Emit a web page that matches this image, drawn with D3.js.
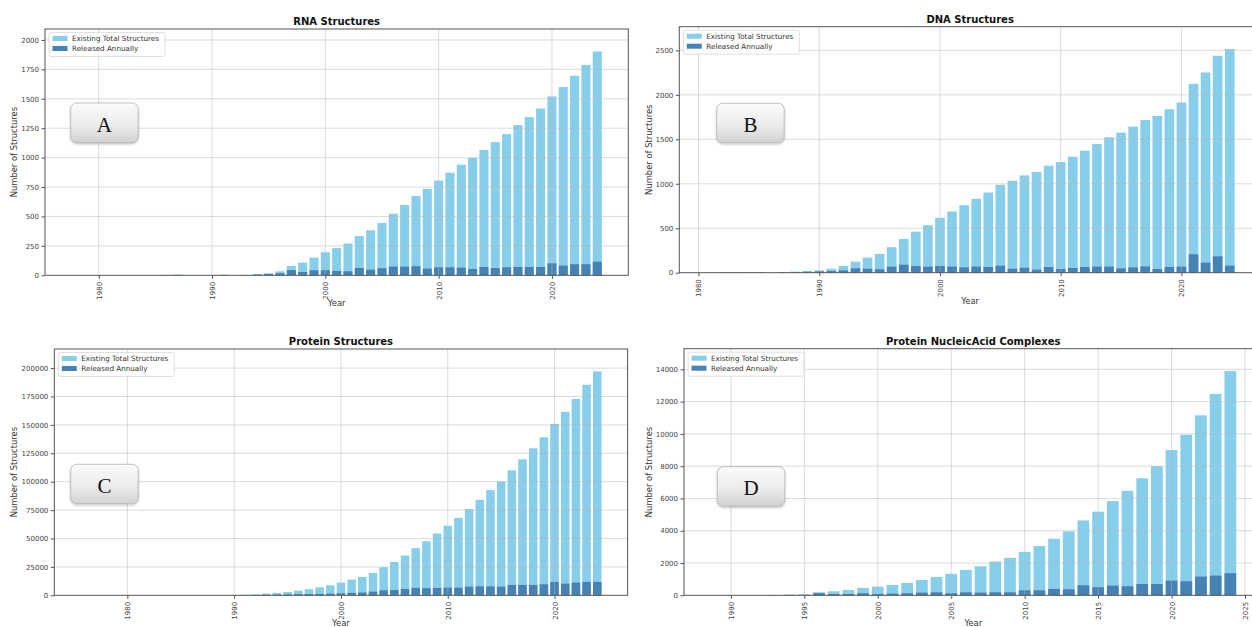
<!DOCTYPE html>
<html>
<head>
<meta charset="utf-8">
<script src="https://cdn.jsdelivr.net/npm/d3@7"></script>
<style>
  body { margin: 0; background: #fff; }
  svg { display: block; font-family: "DejaVu Sans", sans-serif; }
</style>
</head>
<body>
<svg id="chart" width="1252" height="627"></svg>
<script>
"use strict";

// ---- data ----
const seriesNames = ["Existing Total Structures", "Released Annually"];
const panelTitles = ["RNA Structures", "DNA Structures", "Protein Structures", "Protein NucleicAcid Complexes"];
const panelLetters = ["A", "B", "C", "D"];
const startYears = [1978, 1981, 1990, 1989];

const rnaTotal = [1, 0, 0, 0, 0, 0, 0, 0, 3, 5,
  0, 0, 0, 4, 0, 2, 9, 17, 34, 80,
  108, 150, 196, 231, 270, 333, 382, 444, 523, 597,
  674, 734, 805, 872, 940, 998, 1066, 1132, 1200, 1277,
  1345, 1418, 1520, 1600, 1696, 1788, 1903];
const rnaAnnual = [1, 0, 0, 0, 0, 0, 0, 0, 2, 3,
  0, 0, 0, 3, 0, 2, 6, 11, 17, 45,
  28, 43, 43, 37, 34, 62, 48, 60, 74, 74,
  77, 57, 68, 68, 65, 54, 71, 62, 68, 71,
  71, 71, 102, 82, 94, 94, 116];

const dnaTotal = [1, 3, 4, 5, 5, 0, 8, 12, 19, 26,
  45, 75, 124, 169, 211, 286, 380, 462, 534, 617,
  688, 759, 831, 902, 989, 1034, 1094, 1132, 1203, 1244,
  1305, 1372, 1447, 1523, 1575, 1643, 1718, 1763, 1838, 1914,
  2124, 2252, 2440, 2515];
const dnaAnnual = [1, 2, 2, 3, 3, 0, 5, 6, 10, 15,
  19, 26, 49, 45, 38, 68, 90, 75, 68, 75,
  68, 60, 68, 64, 79, 45, 56, 34, 64, 41,
  53, 64, 68, 68, 49, 60, 71, 41, 64, 68,
  207, 113, 184, 79];

const proteinTotal = [300, 400, 700, 1400, 2100, 2900, 4100, 5300, 7000, 8800,
  11200, 13800, 16200, 19700, 24700, 29400, 35000, 41500, 47600, 54400,
  61200, 68200, 75900, 84100, 92600, 100300, 110000, 119700, 129400, 139100,
  150900, 161500, 172900, 185300, 197100];
const proteinAnnual = [150, 200, 300, 500, 600, 800, 1000, 1100, 1200, 1400,
  1800, 2100, 2400, 3200, 4400, 4700, 5600, 6500, 6200, 6500,
  6800, 6800, 7600, 7900, 7900, 7600, 9100, 9100, 9100, 9700,
  11800, 10300, 11200, 11800, 11800];

const complexTotal = [0, 5, 10, 15, 20, 40, 60, 190, 250, 330,
  460, 540, 640, 770, 950, 1140, 1330, 1575, 1800, 2090,
  2320, 2690, 3050, 3500, 3960, 4640, 5180, 5840, 6470, 7250,
  8000, 9000, 9950, 11150, 12480, 13890];
const complexAnnual = [0, 3, 5, 8, 10, 20, 20, 130, 80, 80,
  125, 80, 105, 125, 165, 185, 125, 185, 165, 185,
  185, 310, 310, 395, 375, 620, 500, 600, 560, 700,
  700, 910, 870, 1160, 1220, 1370];

const totals = [rnaTotal, dnaTotal, proteinTotal, complexTotal];
const annuals = [rnaAnnual, dnaAnnual, proteinAnnual, complexAnnual];
const yTickSteps = [250, 500, 25000, 2000];
const xTickSteps = [10, 10, 10, 5];

// ---- layout ----
const boxes = [
  { left: 45, right: 628.3, top: 29, bottom: 275.3, xDomain: [1975.26, 2026.74], ylabX: 14 },
  { left: 679.3, right: 1261, top: 26.7, bottom: 272.7, xDomain: [1978.41, 2026.59], ylabX: 649 },
  { left: 54.3, right: 627.6, top: 349, bottom: 595.3, xDomain: [1973.16, 2026.84], ylabX: 14 },
  { left: 684, right: 1262.5, top: 348.7, bottom: 595.3, xDomain: [1986.81, 2026.19], ylabX: 649 }
];
const letterPos = [[70.7, 103], [716.7, 103.3], [70.7, 464.3], [717.3, 466.7]];

const lightColor = "#87ceeb";
const darkColor = "#4682b4";

const svg = d3.select("#chart");

const defs = svg.append("defs");
const grad = defs.append("linearGradient")
  .attr("id", "btnGrad").attr("x1", 0).attr("y1", 0).attr("x2", 0).attr("y2", 1);
grad.append("stop").attr("offset", "0%").attr("stop-color", "#fbfbfb");
grad.append("stop").attr("offset", "55%").attr("stop-color", "#ececec");
grad.append("stop").attr("offset", "100%").attr("stop-color", "#d2d2d2");
const shadow = defs.append("filter").attr("id", "btnShadow")
  .attr("x", "-20%").attr("y", "-20%").attr("width", "140%").attr("height", "150%");
shadow.append("feDropShadow").attr("dx", 0).attr("dy", 1.2).attr("stdDeviation", 1.2)
  .attr("flood-color", "#000").attr("flood-opacity", 0.25);

boxes.forEach((b, p) => {
  const data = totals[p].map((v, i) => ({
    year: startYears[p] + i, total: v, annual: annuals[p][i]
  }));
  const ymax = d3.max(totals[p]) * 1.1;
  const x = d3.scaleLinear().domain(b.xDomain).range([b.left, b.right]);
  const y = d3.scaleLinear().domain([0, ymax]).range([b.bottom, b.top]);
  const w = b.right - b.left, h = b.bottom - b.top;

  const yTicks = d3.range(0, ymax, yTickSteps[p]);
  const xTicks = d3.range(Math.ceil(b.xDomain[0] / xTickSteps[p]) * xTickSteps[p], b.xDomain[1], xTickSteps[p]);

  const g = svg.append("g");

  // bars
  g.append("g").selectAll("rect").data(data).join("rect")
    .attr("x", d => x(d.year - 0.4))
    .attr("width", d => x(d.year + 0.4) - x(d.year - 0.4))
    .attr("y", d => y(d.total))
    .attr("height", d => y(0) - y(d.total))
    .attr("fill", lightColor);
  g.append("g").selectAll("rect").data(data).join("rect")
    .attr("x", d => x(d.year - 0.4))
    .attr("width", d => x(d.year + 0.4) - x(d.year - 0.4))
    .attr("y", d => y(d.annual))
    .attr("height", d => y(0) - y(d.annual))
    .attr("fill", darkColor);

  // grid (matplotlib draws it over the bars)
  const grid = g.append("g").attr("stroke", "#b8b8b8").attr("stroke-opacity", 0.55).attr("stroke-width", 0.9);
  grid.selectAll(".gx").data(xTicks).join("line")
    .attr("x1", d => x(d)).attr("x2", d => x(d))
    .attr("y1", b.top).attr("y2", b.bottom);
  grid.selectAll(".gy").data(yTicks.filter(t => t > 0)).join("line")
    .attr("x1", b.left).attr("x2", b.right)
    .attr("y1", d => y(d)).attr("y2", d => y(d));

  // frame
  g.append("rect")
    .attr("x", b.left).attr("y", b.top).attr("width", w).attr("height", h)
    .attr("fill", "none").attr("stroke", "#555").attr("stroke-width", 1);

  // axes
  const yAxis = g.append("g")
    .attr("transform", `translate(${b.left},0)`)
    .call(d3.axisLeft(y).tickValues(yTicks).tickFormat(d3.format("d")).tickSize(3.5).tickPadding(2.5));
  const xAxis = g.append("g")
    .attr("transform", `translate(0,${b.bottom})`)
    .call(d3.axisBottom(x).tickValues(xTicks).tickFormat(d3.format("d")).tickSize(3.5));
  [yAxis, xAxis].forEach(a => {
    a.select(".domain").remove();
    a.selectAll(".tick line").attr("stroke", "#555");
    a.selectAll("text").attr("fill", "#444").style("font-size", "7px")
      .style("font-family", "'DejaVu Sans', sans-serif");
  });
  xAxis.selectAll("text")
    .attr("y", 0).attr("dy", "0.35em")
    .attr("transform", "translate(0,6.5) rotate(-90)")
    .attr("text-anchor", "end")
    .attr("x", 0);

  // title & axis labels
  g.append("text")
    .attr("x", (b.left + b.right) / 2).attr("y", b.top - 4)
    .attr("text-anchor", "middle")
    .style("font-size", "10px").style("font-weight", "bold")
    .attr("fill", "#111")
    .text(panelTitles[p]);
  g.append("text")
    .attr("transform", `translate(${b.ylabX},${(b.top + b.bottom) / 2}) rotate(-90)`)
    .attr("text-anchor", "middle").attr("dy", "0.35em")
    .style("font-size", "8.4px").attr("fill", "#333")
    .text("Number of Structures");
  g.append("text")
    .attr("x", (b.left + b.right) / 2).attr("y", Math.min(b.bottom + 31, 626))
    .attr("text-anchor", "middle")
    .style("font-size", "8.4px").attr("fill", "#333")
    .text("Year");

  // legend
  const lg = g.append("g").attr("transform", `translate(${b.left + 4},${b.top + 3.5})`);
  lg.append("rect").attr("width", 116).attr("height", 24).attr("rx", 2)
    .attr("fill", "#fff").attr("fill-opacity", 0.85).attr("stroke", "#d8d8d8").attr("stroke-width", 0.8);
  seriesNames.forEach((name, i) => {
    lg.append("rect").attr("x", 3.5).attr("y", 3.5 + i * 10).attr("width", 15).attr("height", 5)
      .attr("fill", i === 0 ? lightColor : darkColor);
    lg.append("text").attr("x", 23).attr("y", 6 + i * 10).attr("dy", "0.35em")
      .style("font-size", "7.2px").attr("fill", "#333")
      .text(name);
  });

  // letter badge
  const [lx, ly] = letterPos[p];
  const badge = g.append("g").attr("transform", `translate(${lx},${ly})`);
  badge.append("rect").attr("width", 67.5).attr("height", 39.5).attr("rx", 6)
    .attr("fill", "url(#btnGrad)").attr("stroke", "#b4b4b4").attr("stroke-width", 0.8)
    .attr("filter", "url(#btnShadow)");
  badge.append("text").attr("x", 33.75).attr("y", 28.5)
    .attr("text-anchor", "middle")
    .style("font-family", "'Liberation Serif', 'DejaVu Serif', serif")
    .style("font-size", "21px").attr("fill", "#111")
    .text(panelLetters[p]);
});
</script>
</body>
</html>
